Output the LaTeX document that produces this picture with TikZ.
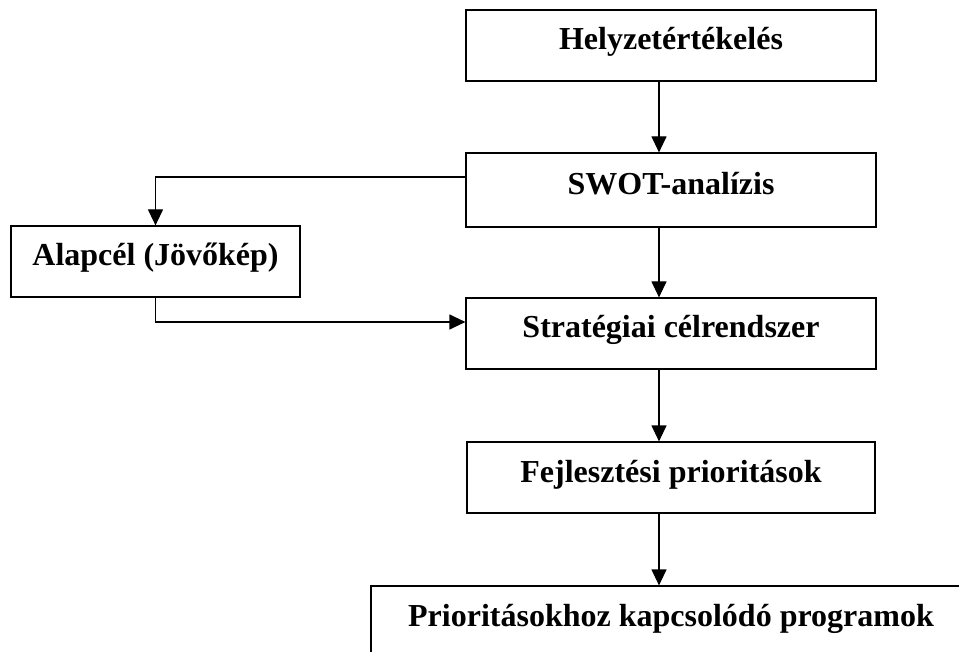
\documentclass[tikz,border=0pt]{standalone}
\usepackage{fontspec}
\setmainfont{Liberation Serif}
\usetikzlibrary{arrows.meta}

\begin{document}
\begin{tikzpicture}[
    x=1pt, y=-1pt,
    block/.style={draw=black, line width=1.2pt, inner sep=0pt, minimum height=71pt,
      text height=22pt, text depth=13pt, font=\fontsize{32}{38}\selectfont\bfseries},
    conn/.style={line width=1.2pt, -{Triangle[length=16pt,width=15pt]}},
    ]
    \useasboundingbox (0,0) rectangle (959,652);
    \node[block, minimum width=410pt] (helyzet) at (671,45.5) {Helyzetértékelés};
    \node[block, minimum width=410pt, minimum height=74pt] (swot) at (671,190) {SWOT-analízis};
    \node[block, minimum width=289pt] (alapcel) at (155.5,261.5) {Alapcél (Jövőkép)};
    \node[block, minimum width=410pt] (strat) at (671,333.5) {Stratégiai célrendszer};
    \node[block, minimum width=408pt] (fejl) at (671,477.5) {Fejlesztési prioritások};
    \node[block, minimum width=600pt] (prog) at (671,621.5) {Prioritásokhoz kapcsolódó programok};
    \draw[conn] ([xshift=-12pt]helyzet.south) -- ([xshift=-12pt]swot.north);
    \draw[conn] ([yshift=13pt]swot.west) -| (alapcel.north);
    \draw[conn] (alapcel.south) |- ([yshift=11.5pt]strat.west);
    \draw[conn] ([xshift=-12pt]swot.south) -- ([xshift=-12pt]strat.north);
    \draw[conn] ([xshift=-12pt]strat.south) -- ([xshift=-12pt]fejl.north);
    \draw[conn] ([xshift=-12pt]fejl.south) -- ([xshift=-12pt]prog.north);
\end{tikzpicture}
\end{document}
